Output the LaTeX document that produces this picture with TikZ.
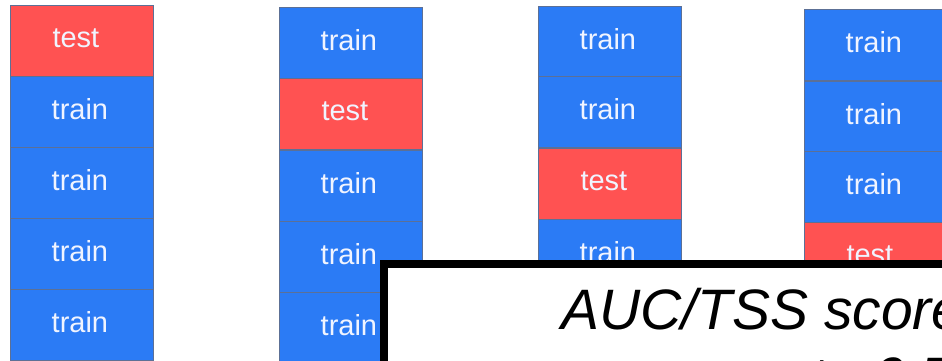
\documentclass[tikz,border=0pt]{standalone}
\usepackage{fontspec}
\setmainfont{Liberation Sans}
\definecolor{foldblue}{RGB}{43,123,245}
\definecolor{foldred}{RGB}{255,82,82}
\definecolor{foldedge}{RGB}{92,112,150}
\definecolor{foldtext}{RGB}{240,244,255}
\tikzset{
  fold/.style={rectangle, anchor=north west, inner sep=0pt,
    minimum width=143pt, minimum height=71pt, draw=foldedge,
    line width=0.8pt},
  foldlabel/.style={inner sep=0pt, text=foldtext,
    font=\fontsize{29}{30}\selectfont},
  trainbox/.style={fold, fill=foldblue,
    label={[foldlabel, xshift=-2pt, yshift=2.5pt]center:train}},
  testbox/.style={fold, fill=foldred,
    label={[foldlabel, xshift=-6pt, yshift=2.5pt]center:test}},
  scorebox/.style={draw=black, fill=white, line width=8pt},
  scoretext/.style={anchor=base west, inner sep=0pt,
    font=\fontsize{57}{68}\selectfont\itshape}
}
\begin{document}
\begin{tikzpicture}[x={(1pt,0)}, y={(0,-1pt)}]
  \useasboundingbox (0,0) rectangle (942,361);
  \clip (0,0) rectangle (942,361);
  \fill[white] (0,0) rectangle (942,361);

  % fold 1
  \node[testbox]  (a1) at (10,5)   {};
  \node[trainbox] (a2) at (10,76)  {};
  \node[trainbox] (a3) at (10,147) {};
  \node[trainbox] (a4) at (10,218) {};
  \node[trainbox] (a5) at (10,289) {};

  % fold 2
  \node[trainbox] (b1) at (279,7)   {};
  \node[testbox]  (b2) at (279,78)  {};
  \node[trainbox] (b3) at (279,150) {};
  \node[trainbox] (b4) at (279,221) {};
  \node[trainbox] (b5) at (279,292) {};

  % fold 3
  \node[trainbox] (c1) at (538,6)   {};
  \node[trainbox] (c2) at (538,76)  {};
  \node[testbox]  (c3) at (538,148) {};
  \node[trainbox] (c4) at (538,219) {};
  \node[trainbox] (c5) at (538,290) {};

  % fold 4
  \node[trainbox] (d1) at (804,9)   {};
  \node[trainbox] (d2) at (804,81)  {};
  \node[trainbox] (d3) at (804,151) {};
  \node[testbox]  (d4) at (804,222) {};
  \node[trainbox] (d5) at (804,293) {};

  % score panel
  \draw[scorebox] (384,264) rectangle (1100,500);
  \node[scoretext] (score) at (561,329) {AUC/TSS score};
  \node[scoretext] (range) at (810,397) {to 0.7};
\end{tikzpicture}
\end{document}
